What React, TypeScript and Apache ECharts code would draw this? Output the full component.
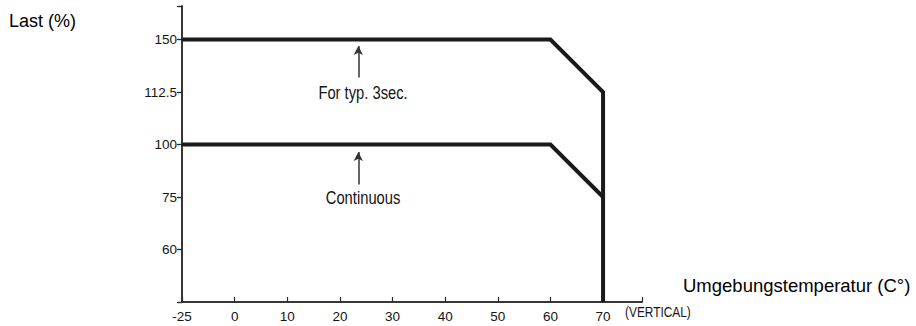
import React, { useEffect, useRef } from "react";
import * as echarts from "echarts";

// Axis tick labels (the chart's axes are evenly spaced by label, not by value)
const tempTicks = [-25, 0, 10, 20, 30, 40, 50, 60, 70];
const loadTicks = [0, 60, 75, 100, 112.5, 150]; // 0 = bottom of the plot

// Derating curves: [temperature °C, load %]
const peakCurve: [number, number][] = [
  [-25, 150],
  [60, 150],
  [70, 112.5],
  [70, 0],
];
const contCurve: [number, number][] = [
  [-25, 100],
  [60, 100],
  [70, 75],
];

// Annotations
const annoTexts = ["For typ. 3sec.", "Continuous"];
const annoArrowTemp = [23.5, 23.5];
const annoTextTemp = [24.4, 24.4];
const annoTextLoad = [112.5, 75];
const annoArrowFrom = [123, 81];
const annoArrowTo = [145.5, 96.5];

const interp = (ticks: number[], v: number) => {
  for (let i = 0; i < ticks.length - 1; i++) {
    const a = ticks[i];
    const b = ticks[i + 1];
    if (v >= a && v <= b) return i + (v - a) / (b - a);
  }
  return v < ticks[0] ? 0 : ticks.length - 1;
};
const xPos = (t: number) => interp(tempTicks, t);
const yPos = (l: number) => interp(loadTicks, l);

const FONT = "'Liberation Sans', Arial, Helvetica, sans-serif";
const AXIS = "#2a2a2a";
const LINE = "#1a1a1a";
const TEXT = "#151515";

export default function App() {
  const ref = useRef<HTMLDivElement>(null);
  useEffect(() => {
    if (!ref.current) return;
    const chart = echarts.init(ref.current, undefined, { renderer: "svg" });
    const xMax = 8.74;
    const yMax = 5.64;
    const axisLine = { show: true, lineStyle: { color: AXIS, width: 1.5 } };
    chart.setOption({
      animation: false,
      backgroundColor: "#fff",
      grid: { left: 182, top: 6, right: 274, bottom: 24, containLabel: false },
      xAxis: [
        {
          type: "value",
          min: 0,
          max: xMax,
          interval: 1,
          position: "bottom",
          axisLine,
          axisTick: { show: true, inside: true, length: 5, lineStyle: { color: AXIS, width: 1.2 } },
          axisLabel: {
            color: TEXT,
            fontSize: 13.5,
            fontFamily: FONT,
            margin: 7,
            formatter: (v: number) => (Number.isInteger(v) && tempTicks[v] !== undefined ? String(tempTicks[v]) : ""),
          },
          splitLine: { show: false },
        },
        {
          type: "value",
          min: 0,
          max: xMax,
          position: "top",
          axisLine,
          axisTick: { show: false },
          axisLabel: { show: false },
          splitLine: { show: false },
        },
      ],
      yAxis: [
        {
          type: "value",
          min: 0,
          max: yMax,
          interval: 1,
          position: "left",
          axisLine,
          axisTick: { show: true, inside: false, length: 4, lineStyle: { color: AXIS, width: 1.2 } },
          axisLabel: {
            color: TEXT,
            fontSize: 13.5,
            fontFamily: FONT,
            margin: 5,
            formatter: (v: number) =>
              Number.isInteger(v) && v > 0 && loadTicks[v] !== undefined ? String(loadTicks[v]) : "",
          },
          splitLine: { show: false },
        },
        {
          type: "value",
          min: 0,
          max: yMax,
          interval: 1,
          position: "right",
          axisLine,
          axisTick: { show: true, inside: true, length: 5, lineStyle: { color: AXIS, width: 1.2 } },
          axisLabel: { show: false },
          splitLine: { show: false },
        },
      ],
      series: [
        {
          type: "line",
          name: "For typ. 3sec.",
          data: peakCurve.map(([t, l]) => [xPos(t), yPos(l)]),
          showSymbol: false,
          symbol: "none",
          lineStyle: { color: LINE, width: 4, join: "miter" },
          silent: true,
        },
        {
          type: "line",
          name: "Continuous",
          data: contCurve.map(([t, l]) => [xPos(t), yPos(l)]),
          showSymbol: false,
          symbol: "none",
          lineStyle: { color: LINE, width: 4, join: "miter" },
          silent: true,
          markLine: {
            silent: true,
            symbol: ["none", "arrow"],
            symbolSize: [7, 9],
            label: { show: false },
            lineStyle: { color: "#333", width: 1.5, type: "solid" },
            data: annoTexts.map((_, i) => [
              { coord: [xPos(annoArrowTemp[i]), yPos(annoArrowFrom[i])] },
              { coord: [xPos(annoArrowTemp[i]), yPos(annoArrowTo[i])] },
            ]),
          },
        },
      ],
    });

    const annoGraphics = annoTexts.map((txt, i) => {
      const [px, py] = chart.convertToPixel({ gridIndex: 0 }, [
        xPos(annoTextTemp[i]),
        yPos(annoTextLoad[i]),
      ]) as number[];
      return {
        type: "text",
        x: px,
        y: py,
        scaleX: 0.82,
        style: {
          text: txt,
          fill: TEXT,
          font: `18px ${FONT}`,
          textAlign: "center",
          textVerticalAlign: "middle",
        },
        silent: true,
      };
    });

    chart.setOption({
      graphic: [
        ...annoGraphics,
        {
          type: "text",
          left: 9,
          top: 12,
          style: { text: "Last (%)", fill: "#000", font: `18px ${FONT}` },
        },
        {
          type: "text",
          left: 683,
          top: 276,
          style: { text: "Umgebungstemperatur (C°)", fill: "#000", font: `18.5px ${FONT}` },
        },
        {
          type: "text",
          x: 625,
          y: 312,
          scaleX: 0.82,
          style: {
            text: "(VERTICAL)",
            fill: TEXT,
            font: `14.5px ${FONT}`,
            textAlign: "left",
            textVerticalAlign: "middle",
          },
        },
      ],
    });
    return () => chart.dispose();
  }, []);
  return (
    <div
      ref={ref}
      style={{ position: "absolute", left: 0, top: 0, width: 916, height: 326, background: "#fff" }}
    />
  );
}
